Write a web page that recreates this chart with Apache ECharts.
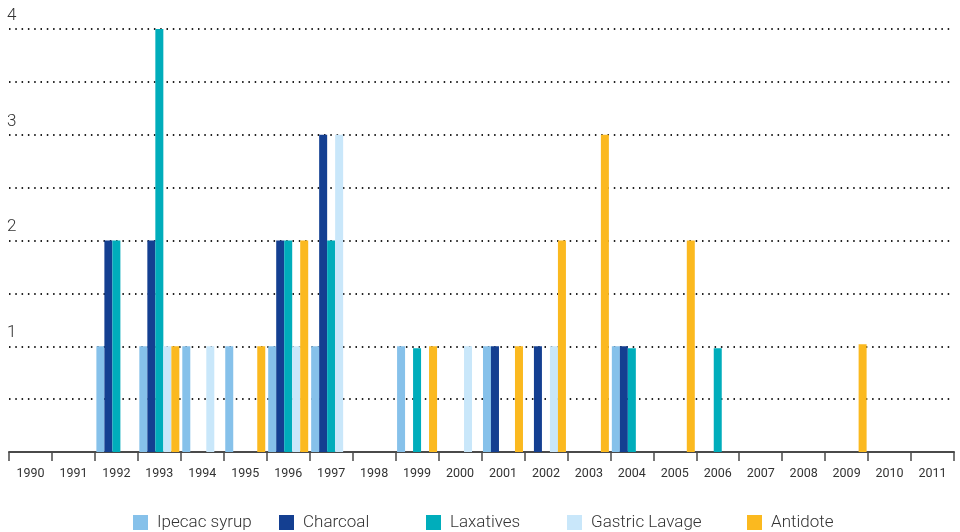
<!DOCTYPE html>
<html>
<head>
<meta charset="utf-8">
<script src="https://cdn.jsdelivr.net/npm/echarts@6/dist/echarts.min.js"></script>
<style>
  html, body { margin: 0; padding: 0; background: #fff; }
  #chart { width: 960px; height: 532px; }
</style>
</head>
<body>
<div id="chart"></div>
<script>
// Years on the category axis
const years = ['1990','1991','1992','1993','1994','1995','1996','1997','1998','1999','2000',
               '2001','2002','2003','2004','2005','2006','2007','2008','2009','2010','2011'];

// Counts per year for each treatment (null = none recorded)
const ipecacSyrup   = [null,null,1,1,1,1,1,1,null,1,null,1,null,null,1,null,null,null,null,null,null,null];
const charcoal      = [null,null,2,2,null,null,2,3,null,null,null,1,1,null,1,null,null,null,null,null,null,null];
const laxatives     = [null,null,2,4,null,null,2,2,null,0.98,null,null,null,null,0.98,null,0.98,null,null,null,null,null];
const gastricLavage = [null,null,null,1,1,null,1,3,null,null,1,null,1,null,null,null,null,null,null,null,null,null];
const antidote      = [null,null,null,1,null,1,2,null,null,1,null,1,2,3,null,2,null,null,null,1.02,null,null];

const seriesNames  = ['Ipecac syrup','Charcoal','Laxatives','Gastric Lavage','Antidote'];
const seriesData   = [ipecacSyrup, charcoal, laxatives, gastricLavage, antidote];
const seriesColors = ['#86C1EA','#143F91','#00ADBB','#C9E7FA','#FBB91F'];

// Legend item positions along the bottom row
const legendLeft = [133, 279, 426, 567, 747];

const font = 'Roboto, "Liberation Sans", sans-serif';

const chart = echarts.init(document.getElementById('chart'));

chart.setOption({
  animation: false,
  backgroundColor: '#ffffff',
  grid: { left: 9, right: 6, top: 29, bottom: 80, containLabel: false },
  legend: seriesNames.map((name, i) => ({
    data: [name],
    left: legendLeft[i],
    top: 514,
    padding: 0,
    itemWidth: 15,
    itemHeight: 15,
    icon: 'rect',
    selectedMode: false,
    textStyle: { fontFamily: font, fontSize: 17, color: '#333', fontWeight: 300, padding: [0, 0, 0, 4] }
  })),
  xAxis: {
    type: 'category',
    data: years,
    boundaryGap: true,
    axisLine: { show: true, lineStyle: { color: '#4a4a4a', width: 2 } },
    axisTick: { show: true, length: 9, lineStyle: { color: '#4a4a4a', width: 1.5 } },
    axisLabel: { fontFamily: font, fontSize: 12.5, color: '#333', margin: 15 },
    splitLine: { show: false }
  },
  yAxis: {
    type: 'value',
    min: 0,
    max: 4,
    interval: 0.5,
    axisLine: { show: false },
    axisTick: { show: false },
    axisLabel: {
      inside: true,
      fontFamily: font,
      fontSize: 17,
      fontWeight: 300,
      color: '#333',
      verticalAlign: 'bottom',
      align: 'left',
      margin: 0,
      padding: [0, 0, 5, -2],
      formatter: v => (Number.isInteger(v) && v > 0 ? String(v) : '')
    },
    splitLine: {
      show: true,
      lineStyle: { color: '#222', width: 2, type: [1.5, 4.8] }
    }
  },
  series: seriesNames.map((name, i) => ({
    name: name,
    type: 'bar',
    data: seriesData[i],
    barWidth: 8,
    barGap: '0%',
    itemStyle: { color: seriesColors[i] }
  }))
});
</script>
</body>
</html>
